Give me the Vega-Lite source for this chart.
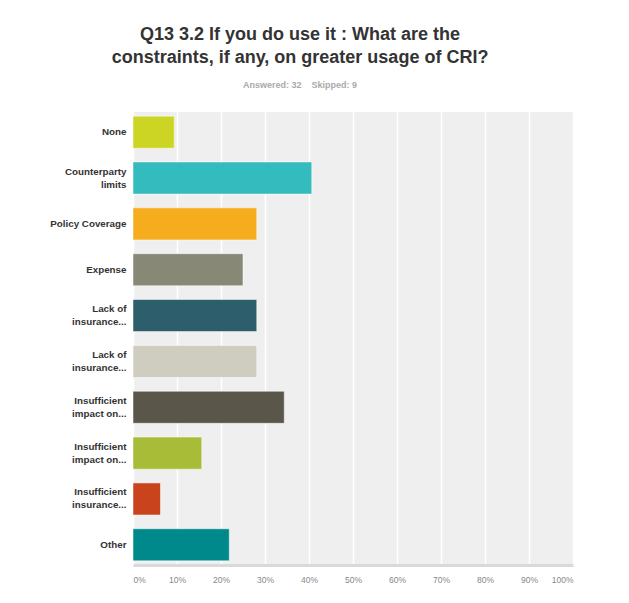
{
  "$schema": "https://vega.github.io/schema/vega-lite/v6.json",
  "width": 440,
  "height": 453,
  "autosize": "none",
  "padding": {"left": 133, "top": 112, "right": 56, "bottom": 38},
  "background": "#ffffff",
  "title": {
    "text": ["Q13 3.2 If you do use it : What are the", "constraints, if any, on greater usage of CRI?"],
    "subtitle": "Answered: 32\u00a0\u00a0\u00a0\u00a0Skipped: 9",
    "anchor": "middle",
    "frame": "group",
    "dx": -53,
    "offset": 22,
    "font": "Liberation Sans",
    "fontSize": 18,
    "fontWeight": "bold",
    "color": "#333333",
    "lineHeight": 23,
    "subtitleFont": "Liberation Sans",
    "subtitleFontSize": 9,
    "subtitleFontWeight": "bold",
    "subtitleColor": "#aaaaaa",
    "subtitlePadding": 14
  },
  "data": {
    "values": [
      {"choice": "None", "pct": 0.0938},
      {"choice": "Counterparty|limits", "pct": 0.4063},
      {"choice": "Policy Coverage", "pct": 0.2813},
      {"choice": "Expense", "pct": 0.25},
      {"choice": "Lack of|insurance...", "pct": 0.2813},
      {"choice": "\u200bLack of|insurance...", "pct": 0.2813},
      {"choice": "Insufficient|impact on...", "pct": 0.3438},
      {"choice": "\u200bInsufficient|impact on...", "pct": 0.1563},
      {"choice": "Insufficient|insurance...", "pct": 0.0625},
      {"choice": "Other", "pct": 0.2188}
    ]
  },
  "mark": {"type": "bar", "stroke": "#ffffff", "strokeOpacity": 0.5, "strokeWidth": 1},
  "encoding": {
    "y": {
      "field": "choice",
      "type": "nominal",
      "sort": null,
      "scale": {"paddingInner": 0.3, "paddingOuter": 0.09},
      "axis": {
        "title": null,
        "labelExpr": "split(datum.label, '|')",
        "labelFont": "Liberation Sans",
        "labelFontSize": 9.8,
        "labelFontWeight": "bold",
        "labelColor": "#333333",
        "labelPadding": 7,
        "labelLineHeight": 13,
        "labelOffset": {"condition": {"test": "indexof(datum.value, '|') >= 0", "value": -6.5}, "value": 0},
        "labelLimit": 200,
        "ticks": false,
        "domain": false
      }
    },
    "x": {
      "field": "pct",
      "type": "quantitative",
      "scale": {"domain": [0, 1]},
      "axis": {
        "title": null,
        "format": ".0%",
        "values": [0, 0.1, 0.2, 0.3, 0.4, 0.5, 0.6, 0.7, 0.8, 0.9, 1],
        "grid": true,
        "gridColor": "#ffffff",
        "gridWidth": 1.5,
        "labelFont": "Liberation Sans",
        "labelFontSize": 8.5,
        "labelColor": "#888888",
        "labelPadding": 10,
        "ticks": false,
        "domain": true,
        "domainColor": "#d9d9d9",
        "domainWidth": 3
      }
    },
    "color": {
      "field": "choice",
      "type": "nominal",
      "legend": null,
      "scale": {
        "domain": ["None", "Counterparty|limits", "Policy Coverage", "Expense", "Lack of|insurance...", "\u200bLack of|insurance...", "Insufficient|impact on...", "\u200bInsufficient|impact on...", "Insufficient|insurance...", "Other"],
        "range": ["#cdd524", "#33bbbe", "#f5ad1e", "#888877", "#2d5e6b", "#cfcdc0", "#5a574a", "#a8bc38", "#c9441c", "#00898a"]
      }
    }
  },
  "config": {"view": {"fill": "#efefef", "stroke": null}}
}
